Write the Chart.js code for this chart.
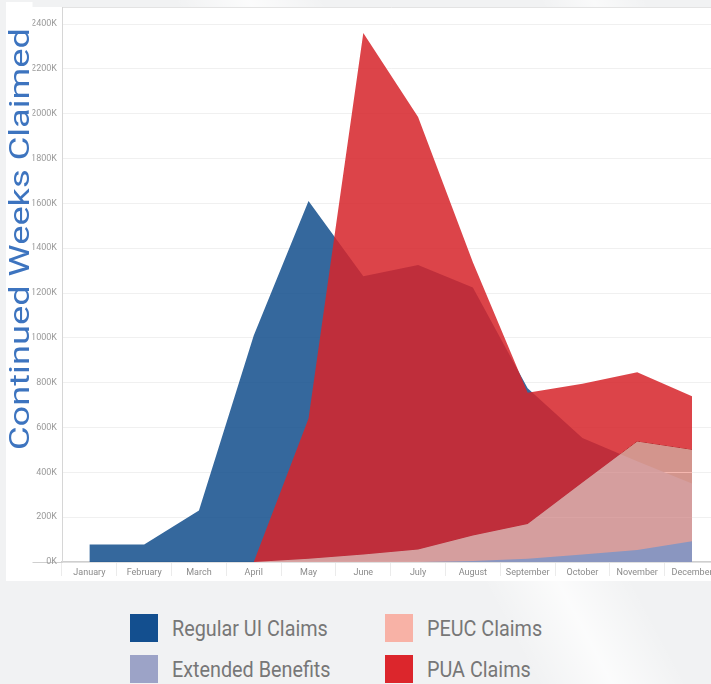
<!DOCTYPE html>
<html>
<head>
<meta charset="utf-8">
<script src="https://cdn.jsdelivr.net/npm/chart.js@4.4.0/dist/chart.umd.min.js"></script>
<style>
html,body{margin:0;padding:0;width:711px;height:684px;overflow:hidden;}
body{
  position:relative;
  background-color:#f1f2f3;
  background-image:
    linear-gradient(62deg, rgba(255,255,255,0) 0%, rgba(255,255,255,0) 50%, rgba(255,255,255,0.75) 57%, rgba(255,255,255,0) 64%, rgba(255,255,255,0) 84%, rgba(255,255,255,0.6) 89%, rgba(255,255,255,0) 94%);
  font-family:Roboto, "Noto Sans", sans-serif;
}
#panel{position:absolute;left:6px;top:7px;width:720px;height:574px;background:#fff;}
#titlePanel{position:absolute;left:6px;top:2px;width:26px;height:579px;background:#fff;}
#wrap{position:absolute;left:0;top:0;width:720px;height:600px;}
.item{position:absolute;display:flex;align-items:center;height:28px;}
.sw{width:28px;height:28px;flex:none;}
.lbl{margin-left:14px;font-size:19.8px;color:#777;white-space:nowrap;display:inline-block;transform:scaleY(1.15);}
</style>
</head>
<body>
<div id="titlePanel"></div>
<div id="panel"></div>
<div id="wrap"><canvas id="c" width="720" height="600"></canvas></div>
<div id="legend"></div>
<script>
// ---- data (thousands of continued weeks claimed) ----
const months = ['January','February','March','April','May','June','July','August','September','October','November','December'];
const regularUI = [78, 78, 230, 1010, 1610, 1275, 1325, 1225, 775, 553, 450, 350];
const extendedBenefits = [null, null, null, null, null, null, 0, 4, 14, 33, 54, 93];
const peucClaims = [null, null, null, 0, 15, 33, 56, 118, 170, 355, 538, 501];
const puaClaims = [null, null, null, 0, 640, 2360, 1985, 1337, 755, 795, 847, 739];
const yTicks = [0, 200, 400, 600, 800, 1000, 1200, 1400, 1600, 1800, 2000, 2200, 2400];
const yTop = 2476;
const yTitle = 'Continued Weeks Claimed';

const toUnits = arr => arr.map(v => v === null ? null : v * 1000);
const yMax = yTop * 1000;

const seriesStyle = {
  'Extended Benefits': {fill:'rgb(138,150,192)', legend:'#9ca3c7'},
  'PEUC Claims': {fill:'rgb(27,117,104)', legend:'#f8b2a6'},
  'PUA Claims': {fill:'rgba(214,37,43,0.86)', legend:'#dc262c'},
  'Regular UI Claims': {fill:'rgba(18,78,140,0.85)', legend:'#134f8f'}
};

function ds(label, values){
  return {
    label, data: toUnits(values),
    backgroundColor: seriesStyle[label].fill,
    borderWidth: 0, pointRadius: 0, pointHoverRadius: 0,
    fill: 'origin', tension: 0
  };
}

// blend PEUC additively over the layers beneath it
const blendPlugin = {
  id: 'blend',
  afterDatasetDraw(chart, args){
    const label = chart.data.datasets[args.index].label;
    if (label === 'PUA Claims') chart.ctx.globalCompositeOperation = 'lighter';
    else if (label === 'PEUC Claims') chart.ctx.globalCompositeOperation = 'source-over';
  }
};

const titlePlugin = {
  id: 'yTitle',
  afterDraw(chart){
    const ctx = chart.ctx;
    ctx.save();
    ctx.fillStyle = '#ffffff';
    ctx.fillRect(6, 2, 26.5, 579);
    ctx.font = '28px Roboto';
    const w = ctx.measureText(yTitle).width;
    ctx.translate(29, 239);
    ctx.rotate(-Math.PI / 2);
    ctx.scale(422 / w, 1);
    ctx.fillStyle = '#3d74bf';
    ctx.textAlign = 'center';
    ctx.textBaseline = 'alphabetic';
    ctx.fillText(yTitle, 0, 0);
    ctx.restore();
  }
};

new Chart(document.getElementById('c'), {
  type: 'line',
  data: {
    labels: months,
    datasets: [
      ds('Extended Benefits', extendedBenefits),
      ds('PEUC Claims', peucClaims),
      ds('PUA Claims', puaClaims),
      ds('Regular UI Claims', regularUI)
    ]
  },
  options: {
    responsive: false,
    animation: false,
    devicePixelRatio: 1,
    layout: {padding: {top: 7, left: 0, right: 0.6087, bottom: 0}},
    plugins: {legend: {display: false}, tooltip: {enabled: false}, filler: {drawTime: 'beforeDatasetDraw'}},
    scales: {
      x: {
        offset: true,
        afterFit(s){ s.height = 38; },
        grid: {drawOnChartArea: false, offset: true, tickLength: 14, color: '#ebebeb'},
        border: {color: '#cfcfcf', width: 1.5},
        ticks: {color: '#8a8a8a', font: {family: 'Roboto', size: 9}, padding: -9, maxRotation: 0, autoSkip: false}
      },
      y: {
        min: 0, max: yMax,
        afterBuildTicks(s){ s.ticks = yTicks.map(v => ({value: v * 1000})).concat([{value: yMax}]); },
        afterFit(s){ s.width = 62; },
        ticks: {
          callback: (v) => v === yMax ? '' : (v / 1000) + 'K',
          color: '#9a9a9a', font: {family: 'Roboto', size: 9}, padding: -25
        },
        grid: {
          color: (c) => (c.tick && c.tick.value === yMax) ? '#e3e3e3' : '#f0f0f0',
          tickLength: 30,
          tickColor: (c) => (c.tick && c.tick.value === 0) ? '#cfcfcf' : 'rgba(0,0,0,0)'
        },
        border: {color: '#d6d6d6', width: 1}
      }
    }
  },
  plugins: [blendPlugin, titlePlugin]
});

// HTML legend in two columns
const legendOrder = [
  ['Regular UI Claims', 130, 614], ['Extended Benefits', 130, 655],
  ['PEUC Claims', 385, 614], ['PUA Claims', 385, 655]
];
const lg = document.getElementById('legend');
legendOrder.forEach(([name, x, y]) => {
  const it = document.createElement('div');
  it.className = 'item';
  it.style.left = x + 'px'; it.style.top = y + 'px';
  const sw = document.createElement('div');
  sw.className = 'sw'; sw.style.background = seriesStyle[name].legend;
  const t = document.createElement('span');
  t.className = 'lbl'; t.textContent = name;
  it.appendChild(sw); it.appendChild(t);
  lg.appendChild(it);
});
</script>
</body>
</html>
